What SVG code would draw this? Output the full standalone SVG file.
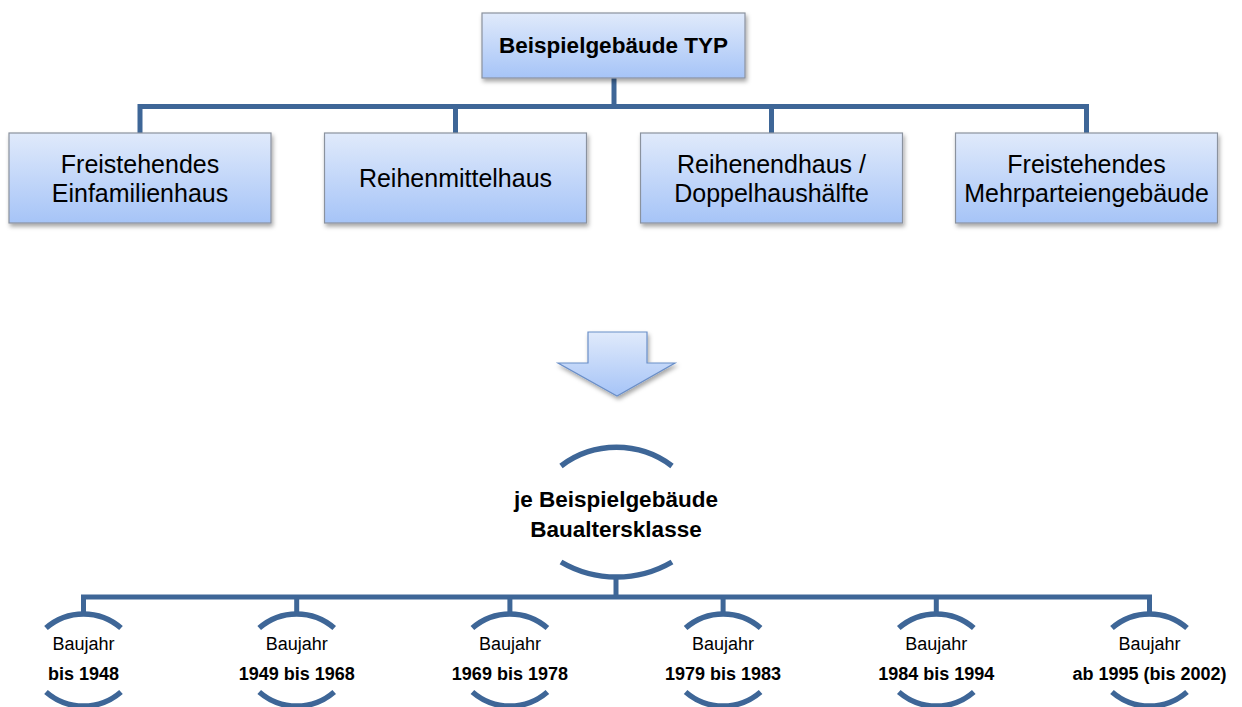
<svg xmlns="http://www.w3.org/2000/svg" width="1242" height="707" viewBox="0 0 1242 707">
<defs>
<linearGradient id="g" x1="0" y1="0" x2="0" y2="1">
<stop offset="0" stop-color="#e0eafb"/>
<stop offset="1" stop-color="#a6c4f7"/>
</linearGradient>
<filter id="sh" x="-10%" y="-10%" width="125%" height="140%">
<feDropShadow dx="1.5" dy="3" stdDeviation="2" flood-color="#000" flood-opacity="0.35"/>
</filter>
<style>
.box{fill:url(#g);stroke:#8a929e;stroke-width:1.2;filter:url(#sh)}
.ln{fill:none;stroke:#3e6697;stroke-width:5}
.arc{fill:none;stroke:#3e6697;stroke-width:5.5}
.t{font-family:"Liberation Sans",Arial,sans-serif;fill:#000;text-anchor:middle}
.tb{font-weight:bold}
.big{font-size:25px}
.ttl{font-size:22.5px;font-weight:bold}
.sm{font-size:18px}
</style>
</defs>
<rect width="1242" height="707" fill="#fff"/>
<g id="connectors">
<path class="ln" d="M614,78 V106.5"/>
<path class="ln" d="M140,133 V106.5 H1086.5 V133"/>
<path class="ln" d="M455.5,106.5 V133 M771.5,106.5 V133"/>
<path class="ln" d="M616,577 V597"/>
<path class="ln" d="M83.5,613 V597 H1149.5 V613"/>
<path class="ln" d="M296.7,597 V613 M509.9,597 V613 M723.1,597 V613 M936.3,597 V613"/>
</g>
<g id="n-typ">
<rect class="box" x="482" y="13" width="263" height="65"/>
<text class="t ttl" x="613.5" y="53">Beispielgebäude TYP</text>
</g>
<g id="n-efh">
<rect class="box" x="9" y="133" width="262" height="90"/>
<text class="t big" x="140" y="173">Freistehendes</text>
<text class="t big" x="140" y="202">Einfamilienhaus</text>
</g>
<g id="n-rmh">
<rect class="box" x="324.5" y="133" width="262" height="90"/>
<text class="t big" x="455.5" y="187">Reihenmittelhaus</text>
</g>
<g id="n-reh">
<rect class="box" x="640.5" y="133" width="262" height="90"/>
<text class="t big" x="771.5" y="173">Reihenendhaus /</text>
<text class="t big" x="771.5" y="202">Doppelhaushälfte</text>
</g>
<g id="n-mfh">
<rect class="box" x="955.5" y="133" width="262" height="90"/>
<text class="t big" x="1086.5" y="173">Freistehendes</text>
<text class="t big" x="1086.5" y="202">Mehrparteiengebäude</text>
</g>
<g id="arrow">
<path class="box" d="M588,332 H647 V363 H675 L617,396 L558,363 H588 Z" style="stroke:#6b8fc8"/>
</g>
<g id="n-bak">
<path class="arc" d="M561,466 A92,92 0 0 1 672,466"/>
<path class="arc" d="M561,562 A110,110 0 0 0 672,562"/>
<text class="t ttl" x="616" y="507">je Beispielgebäude</text>
<text class="t ttl" x="616" y="537">Baualtersklasse</text>
</g>
<g id="n-1">
<path class="arc" d="M46,628 A57,57 0 0 1 121,628 M46,692 A57,57 0 0 0 121,692"/>
<text class="t sm" x="83.5" y="650">Baujahr</text>
<text class="t sm tb" x="83.5" y="680">bis 1948</text>
</g>
<g id="n-2">
<path class="arc" d="M259.2,628 A57,57 0 0 1 334.2,628 M259.2,692 A57,57 0 0 0 334.2,692"/>
<text class="t sm" x="296.7" y="650">Baujahr</text>
<text class="t sm tb" x="296.7" y="680">1949 bis 1968</text>
</g>
<g id="n-3">
<path class="arc" d="M472.4,628 A57,57 0 0 1 547.4,628 M472.4,692 A57,57 0 0 0 547.4,692"/>
<text class="t sm" x="509.9" y="650">Baujahr</text>
<text class="t sm tb" x="509.9" y="680">1969 bis 1978</text>
</g>
<g id="n-4">
<path class="arc" d="M685.6,628 A57,57 0 0 1 760.6,628 M685.6,692 A57,57 0 0 0 760.6,692"/>
<text class="t sm" x="723.1" y="650">Baujahr</text>
<text class="t sm tb" x="723.1" y="680">1979 bis 1983</text>
</g>
<g id="n-5">
<path class="arc" d="M898.8,628 A57,57 0 0 1 973.8,628 M898.8,692 A57,57 0 0 0 973.8,692"/>
<text class="t sm" x="936.3" y="650">Baujahr</text>
<text class="t sm tb" x="936.3" y="680">1984 bis 1994</text>
</g>
<g id="n-6">
<path class="arc" d="M1112,628 A57,57 0 0 1 1187,628 M1112,692 A57,57 0 0 0 1187,692"/>
<text class="t sm" x="1149.5" y="650">Baujahr</text>
<text class="t sm tb" x="1149.5" y="680">ab 1995 (bis 2002)</text>
</g>
</svg>
